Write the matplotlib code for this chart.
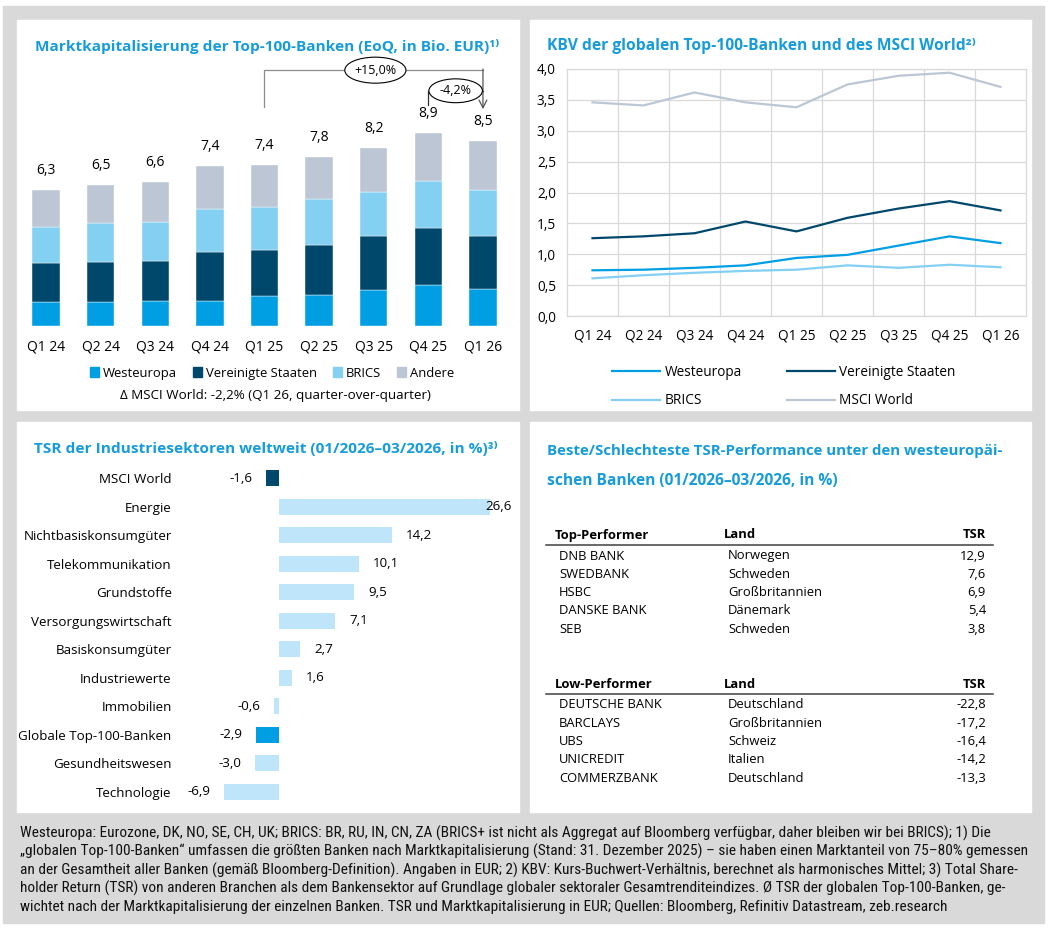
import numpy as np
import matplotlib
matplotlib.use('Agg')
import matplotlib.pyplot as plt
from matplotlib.patches import Rectangle, Ellipse, Patch
from matplotlib import font_manager

# ---- data ----
quarters = ['Q1 24', 'Q2 24', 'Q3 24', 'Q4 24', 'Q1 25', 'Q2 25', 'Q3 25', 'Q4 25', 'Q1 26']

mc_west = [1.09, 1.09, 1.14, 1.16, 1.39, 1.43, 1.66, 1.88, 1.71]
mc_us = [1.82, 1.87, 1.85, 2.26, 2.12, 2.31, 2.47, 2.62, 2.45]
mc_brics = [1.64, 1.77, 1.83, 1.99, 1.99, 2.10, 2.03, 2.20, 2.13]
mc_andere = [1.74, 1.76, 1.82, 1.99, 1.93, 1.96, 2.06, 2.21, 2.25]
mc_total = [6.3, 6.5, 6.6, 7.4, 7.4, 7.8, 8.2, 8.9, 8.5]
chg_year = '+15,0%'
chg_quarter = '-4,2%'

kbv_west = [0.74, 0.75, 0.78, 0.82, 0.94, 0.99, 1.14, 1.29, 1.18]
kbv_us = [1.26, 1.29, 1.34, 1.53, 1.37, 1.59, 1.74, 1.86, 1.71]
kbv_brics = [0.61, 0.66, 0.70, 0.73, 0.75, 0.82, 0.78, 0.83, 0.79]
kbv_msci = [3.46, 3.41, 3.62, 3.46, 3.38, 3.75, 3.89, 3.94, 3.71]

sectors = ['MSCI World', 'Energie', 'Nichtbasiskonsumgüter', 'Telekommunikation',
           'Grundstoffe', 'Versorgungswirtschaft', 'Basiskonsumgüter', 'Industriewerte',
           'Immobilien', 'Globale Top-100-Banken', 'Gesundheitswesen', 'Technologie']
sector_tsr = [-1.6, 26.6, 14.2, 10.1, 9.5, 7.1, 2.7, 1.6, -0.6, -2.9, -3.0, -6.9]

top_banks = ['DNB BANK', 'SWEDBANK', 'HSBC', 'DANSKE BANK', 'SEB']
top_land = ['Norwegen', 'Schweden', 'Großbritannien', 'Dänemark', 'Schweden']
top_tsr = [12.9, 7.6, 6.9, 5.4, 3.8]
low_banks = ['DEUTSCHE BANK', 'BARCLAYS', 'UBS', 'UNICREDIT', 'COMMERZBANK']
low_land = ['Deutschland', 'Großbritannien', 'Schweiz', 'Italien', 'Deutschland']
low_tsr = [-22.8, -17.2, -16.4, -14.2, -13.3]

footer_lines = [
    'Westeuropa: Eurozone, DK, NO, SE, CH, UK; BRICS: BR, RU, IN, CN, ZA (BRICS+ ist nicht als Aggregat auf Bloomberg verfügbar, daher bleiben wir bei BRICS); 1) Die',
    '„globalen Top-100-Banken“ umfassen die größten Banken nach Marktkapitalisierung (Stand: 31. Dezember 2025) – sie haben einen Marktanteil von 75–80% gemessen',
    'an der Gesamtheit aller Banken (gemäß Bloomberg-Definition). Angaben in EUR; 2) KBV: Kurs-Buchwert-Verhältnis, berechnet als harmonisches Mittel; 3) Total Share-',
    'holder Return (TSR) von anderen Branchen als dem Bankensektor auf Grundlage globaler sektoraler Gesamtrenditeindizes. Ø TSR der globalen Top-100-Banken, ge-',
    'wichtet nach der Marktkapitalisierung der einzelnen Banken. TSR und Marktkapitalisierung in EUR; Quellen: Bloomberg, Refinitiv Datastream, zeb.research',
]

# ---- style ----
C_WEST = '#009FE3'
C_US = '#00486B'
C_BRICS = '#84D0F3'
C_ANDERE = '#BCC6D5'
C_LIGHT = '#BEE5F9'
C_TITLE = '#169CDA'
C_GRID = '#D9D9D9'


def pick_font(cands):
    for c in cands:
        try:
            font_manager.findfont(c, fallback_to_default=False)
            return c
        except Exception:
            pass
    return 'DejaVu Sans'


MAIN = pick_font(['Open Sans', 'Noto Sans', 'DejaVu Sans'])
NARROW = pick_font(['Liberation Sans Narrow', 'Roboto Condensed', 'Noto Sans Condensed',
                    'Open Sans Condensed', 'Roboto', 'Lato'])
plt.rcParams['font.family'] = [MAIN, 'DejaVu Sans']
plt.rcParams['font.size'] = 9.5


def de(v):
    return f'{v:.1f}'.replace('.', ',')


W, H = 1051, 933
fig = plt.figure(figsize=(W / 100, H / 100), dpi=100)
fig.patch.set_facecolor('white')


def px_axes(x0, y0, x1, y1):
    return fig.add_axes([x0 / W, 1 - y1 / H, (x1 - x0) / W, (y1 - y0) / H])


def px_rect(x0, y0, x1, y1, color):
    fig.patches.append(Rectangle((x0 / W, 1 - y1 / H), (x1 - x0) / W, (y1 - y0) / H,
                                 transform=fig.transFigure, color=color, zorder=-10))


px_rect(3, 6, 1044, 923, '#D9D9D9')
for box in [(17, 20, 519, 410), (530, 20, 1031, 410), (17, 422, 519, 812), (530, 422, 1031, 812)]:
    px_rect(*box, 'white')

fit_jobs = []


def title(x, y, s, width):
    t = fig.text(x / W, 1 - y / H, s, color=C_TITLE, fontsize=10.5, fontweight='bold',
                 ha='left', va='center')
    fit_jobs.append((t, width))


title(35, 46, 'Marktkapitalisierung der Top-100-Banken (EoQ, in Bio. EUR)¹⁾', 465)
title(547, 46, 'KBV der globalen Top-100-Banken und des MSCI World²⁾', 429)
title(34, 449, 'TSR der Industriesektoren weltweit (01/2026–03/2026, in %)³⁾', 463)
title(547, 451, 'Beste/Schlechteste TSR-Performance unter den westeuropäi-', 458)
title(547, 481, 'schen Banken (01/2026–03/2026, in %)', 293)

# ---- top left: stacked bars ----
ax1 = px_axes(16, 55, 513, 326)
x = np.arange(len(quarters))
bottom = np.zeros(len(quarters))
for vals, col, lab in [(mc_west, C_WEST, 'Westeuropa'), (mc_us, C_US, 'Vereinigte Staaten'),
                       (mc_brics, C_BRICS, 'BRICS'), (mc_andere, C_ANDERE, 'Andere')]:
    ax1.bar(x, vals, bottom=bottom, width=0.5, color=col, label=lab,
            edgecolor='white', linewidth=0.3)
    bottom += np.array(vals)
for i, t in enumerate(mc_total):
    ax1.text(x[i], bottom[i] + 0.9, de(t), ha='center', va='center', fontsize=10)
ax1.set_xlim(-0.55, 8.55)
ax1.set_ylim(0, 12.5)
ax1.set_xticks(x)
ax1.set_xticklabels(quarters)
ax1.tick_params(axis='x', length=0, pad=10, labelsize=10)
ax1.set_yticks([])
for s in ax1.spines.values():
    s.set_visible(False)
ax1.patch.set_alpha(0)

# growth brackets
ax1.plot([4, 4, 8], [10.1, 11.8, 11.8], color='#8C8C8C', lw=0.9, clip_on=False)
ax1.plot([7, 7, 8], [10.2, 10.85, 10.85], color='#333333', lw=0.9, clip_on=False)
ax1.annotate('', xy=(8, 10.0), xytext=(8, 11.85),
             arrowprops=dict(arrowstyle='->', color='#555555', lw=0.9,
                             mutation_scale=14, shrinkA=0, shrinkB=0),
             annotation_clip=False)
ax1.add_patch(Ellipse((6.03, 11.8), 1.12, 1.2, facecolor='white', edgecolor='black',
                      lw=0.8, clip_on=False, zorder=5))
ax1.text(6.03, 11.8, chg_year, ha='center', va='center', fontsize=9, zorder=6)
ax1.add_patch(Ellipse((7.5, 10.85), 0.98, 1.1, facecolor='white', edgecolor='black',
                      lw=0.8, clip_on=False, zorder=5))
ax1.text(7.5, 10.85, chg_quarter, ha='center', va='center', fontsize=9, zorder=6)

h1 = [Patch(color=c) for c in [C_WEST, C_US, C_BRICS, C_ANDERE]]
fig.legend(h1, ['Westeuropa', 'Vereinigte Staaten', 'BRICS', 'Andere'],
           loc='center', bbox_to_anchor=(272 / W, 1 - 373 / H), ncol=4, frameon=False,
           handlelength=0.7, handleheight=0.7, handletextpad=0.3, columnspacing=1.2,
           fontsize=9.4, borderpad=0)
fig.text(275 / W, 1 - 396 / H, 'Δ MSCI World: -2,2% (Q1 26, quarter-over-quarter)',
         ha='center', va='center', fontsize=9.6)

# ---- top right: KBV lines ----
ax2 = px_axes(567, 69, 1026, 316)
ax2.plot(x, kbv_west, color=C_WEST, lw=1.6, label='Westeuropa')
ax2.plot(x, kbv_us, color=C_US, lw=1.6, label='Vereinigte Staaten')
ax2.plot(x, kbv_brics, color=C_BRICS, lw=1.6, label='BRICS')
ax2.plot(x, kbv_msci, color=C_ANDERE, lw=1.6, label='MSCI World')
ax2.set_xlim(-0.5, 8.5)
ax2.set_ylim(0, 4)
ax2.set_xticks(x)
ax2.set_xticklabels(quarters)
ax2.set_xticks(np.arange(0.5, 8, 1), minor=True)
yt = np.arange(0, 4.01, 0.5)
ax2.set_yticks(yt)
ax2.set_yticklabels([de(v) for v in yt])
ax2.tick_params(axis='both', which='both', length=0, labelsize=9.8)
ax2.tick_params(axis='x', pad=9)
ax2.tick_params(axis='y', pad=8)
ax2.grid(axis='y', which='major', color=C_GRID, lw=0.9)
ax2.grid(axis='x', which='minor', color=C_GRID, lw=0.9)
ax2.set_axisbelow(True)
for s in ax2.spines.values():
    s.set_color(C_GRID)
    s.set_linewidth(0.9)
hs, ls = ax2.get_legend_handles_labels()
order = [0, 2, 1, 3]
fig.legend([hs[i] for i in order], [ls[i] for i in order], loc='upper center',
           bbox_to_anchor=(784 / W, 1 - 358 / H), ncol=2, frameon=False, fontsize=9.8,
           handlelength=3.5, handletextpad=0.35, columnspacing=3.3, labelspacing=1.0,
           borderpad=0)

# ---- bottom left: sector TSR ----
ax3 = px_axes(180, 464, 505, 806)
y3 = np.arange(len(sectors))
cols3 = [C_US if s == 'MSCI World' else C_WEST if s.startswith('Globale') else C_LIGHT
         for s in sectors]
ax3.barh(y3, sector_tsr, height=0.55, color=cols3)
ax3.set_xlim(-12.48, 28.5)
ax3.set_ylim(len(sectors) - 0.5, -0.5)
ax3.set_yticks(y3)
ax3.set_yticklabels(sectors)
ax3.set_xticks([])
ax3.tick_params(axis='y', length=0, pad=6, labelsize=9.6)
for s in ax3.spines.values():
    s.set_visible(False)
ax3.patch.set_alpha(0)
vmax = max(sector_tsr)
for yi, v in zip(y3, sector_tsr):
    if v == vmax:
        ax3.annotate(de(v), (v, yi), xytext=(-3, 0), textcoords='offset points',
                     ha='left', va='center', fontsize=9.6, annotation_clip=False)
    elif v >= 0:
        ax3.annotate(de(v), (v, yi), xytext=(10, 0), textcoords='offset points',
                     ha='left', va='center', fontsize=9.6)
    else:
        ax3.annotate(de(v), (v, yi), xytext=(-10, 0), textcoords='offset points',
                     ha='right', va='center', fontsize=9.6)

# ---- bottom right: table ----
ax4 = px_axes(530, 422, 1031, 812)
ax4.set_xlim(530, 1031)
ax4.set_ylim(812, 422)
ax4.axis('off')


def table(y_head, head, names, lands, vals):
    fs = 9.4
    ax4.text(555, y_head, head, fontweight='bold', fontsize=fs, va='center')
    ax4.text(724, y_head, 'Land', fontweight='bold', fontsize=fs, va='center')
    ax4.text(986, y_head, 'TSR', fontweight='bold', fontsize=fs, va='center', ha='right')
    ax4.plot([546, 993], [y_head + 10, y_head + 10], color='#404040', lw=1.1)
    for k, (n, l, v) in enumerate(zip(names, lands, vals)):
        yy = y_head + 21 + 18.3 * k
        ax4.text(559, yy, n, fontsize=fs, va='center')
        ax4.text(728, yy, l, fontsize=fs, va='center')
        ax4.text(986, yy, de(v), fontsize=fs, va='center', ha='right')


table(535, 'Top-Performer', top_banks, top_land, top_tsr)
table(684, 'Low-Performer', low_banks, low_land, low_tsr)

# ---- footer ----
foot = []
for i, line in enumerate(footer_lines):
    foot.append(fig.text(20 / W, 1 - (833 + 18.5 * i) / H, line, fontsize=9,
                         family=[NARROW, 'DejaVu Sans'], ha='left', va='center',
                         color='#111111'))

# scale text sizes to the widths seen in the reference
fig.canvas.draw()
rend = fig.canvas.get_renderer()
for t, wt in fit_jobs:
    w = t.get_window_extent(rend).width
    t.set_fontsize(t.get_fontsize() * wt / w)
wmax = max(t.get_window_extent(rend).width for t in foot)
for t in foot:
    t.set_fontsize(t.get_fontsize() * 1008 / wmax)

fig.savefig('out.png', dpi=100)
